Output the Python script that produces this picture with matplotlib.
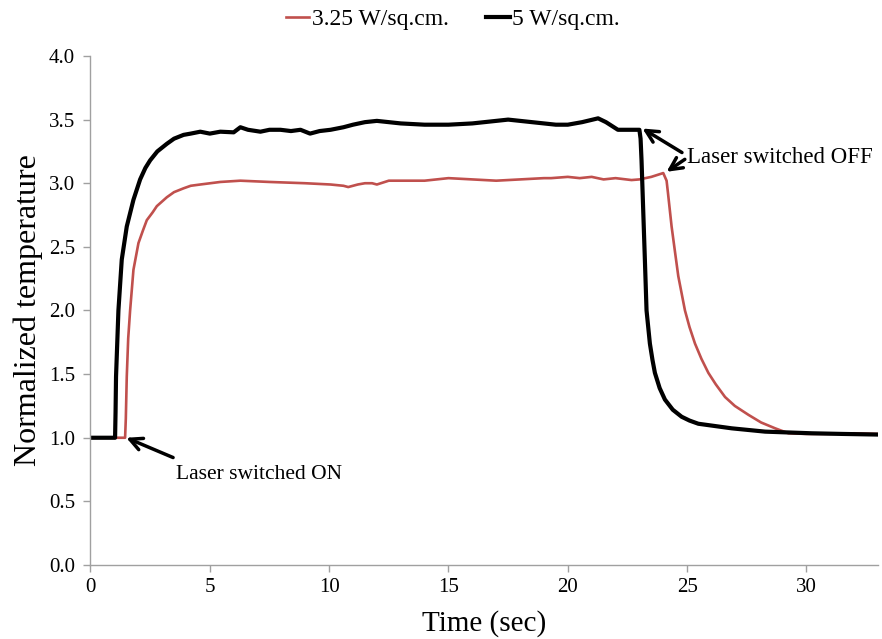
import matplotlib.pyplot as plt

plt.rcParams['font.family'] = ['Liberation Serif', 'DejaVu Serif']

# 3.25 W/sq.cm. (red)
t_red = [0, 1.0, 1.45, 1.48, 1.52, 1.58, 1.66, 1.80, 2.01, 2.2, 2.36, 2.6, 2.78, 3.20,
         3.5, 3.90, 4.2, 4.60, 5.44, 6.28, 7.5, 9.0, 10.06, 10.6, 10.8, 11.2, 11.5,
         11.8, 12.0, 12.5, 13.0, 14.0, 15.0, 16.0, 17.0, 18.0, 19.0, 19.3, 20.0, 20.5,
         21.0, 21.5, 22.0, 22.67, 23.0, 23.5, 24.0, 24.14, 24.2, 24.35, 24.5, 24.63,
         24.91, 25.1, 25.33, 25.6, 25.89, 26.2, 26.59, 27.0, 27.57, 28.1, 28.69, 29.25,
         30.0, 31.0, 32.0, 33.0]
y_red = [1.0, 1.0, 1.0, 1.15, 1.48, 1.78, 2.0, 2.32, 2.53, 2.63, 2.71, 2.77, 2.82, 2.89,
         2.93, 2.96, 2.98, 2.99, 3.01, 3.02, 3.01, 3.0, 2.99, 2.98, 2.97, 2.99, 3.0,
         3.0, 2.99, 3.02, 3.02, 3.02, 3.04, 3.03, 3.02, 3.03, 3.04, 3.04, 3.05, 3.04,
         3.05, 3.03, 3.04, 3.025, 3.03, 3.05, 3.08, 3.02, 2.92, 2.66, 2.45, 2.27,
         2.00, 1.87, 1.74, 1.62, 1.51, 1.42, 1.32, 1.25, 1.18, 1.12, 1.074, 1.035,
         1.03, 1.03, 1.035, 1.03]

# 5 W/sq.cm. (black)
t_blk = [0, 0.5, 1.03, 1.05, 1.07, 1.17, 1.31, 1.52, 1.80, 2.08, 2.3, 2.50, 2.8, 3.20,
         3.5, 3.90, 4.2, 4.60, 5.0, 5.44, 6.0, 6.28, 6.6, 7.12, 7.5, 7.96, 8.4, 8.8,
         9.2, 9.6, 10.06, 10.6, 11.0, 11.5, 12.0, 12.5, 13.0, 14.0, 15.0, 16.0, 17.0,
         17.5, 18.5, 19.5, 20.0, 20.6, 21.27, 21.6, 22.1, 22.5, 23.0, 23.05, 23.09,
         23.23, 23.30, 23.44, 23.55, 23.65, 23.85, 24.07, 24.4, 24.77, 25.1, 25.47,
         26.87, 28.27, 30.23, 31.5, 33.0]
y_blk = [1.0, 1.0, 1.0, 1.2, 1.48, 2.00, 2.40, 2.66, 2.87, 3.03, 3.12, 3.18, 3.25, 3.31,
         3.35, 3.38, 3.39, 3.405, 3.39, 3.405, 3.40, 3.44, 3.42, 3.405, 3.42, 3.42, 3.41, 3.42,
         3.39, 3.41, 3.42, 3.44, 3.46, 3.48, 3.49, 3.48, 3.47, 3.46, 3.46, 3.47, 3.49,
         3.50, 3.48, 3.46, 3.46, 3.48, 3.51, 3.48, 3.42, 3.42, 3.42, 3.35, 3.18,
         2.40, 2.00, 1.74, 1.61, 1.51, 1.39, 1.30, 1.22, 1.165, 1.135, 1.11,
         1.074, 1.048, 1.035, 1.03, 1.025]

fig = plt.figure(figsize=(8.82, 6.39), dpi=100)
ax = fig.add_axes([0.1026, 0.1158, 0.8929, 0.7966])

ax.plot(t_red, y_red, color='#C0504D', lw=1.9, label='3.25 W/sq.cm.')
ax.plot(t_blk, y_blk, color='black', lw=3.0, label='5 W/sq.cm.')

ax.set_xlim(0, 33)
ax.set_ylim(0, 4.0)
ax.set_xticks(range(0, 35, 5))
ax.set_yticks([i * 0.5 for i in range(9)])
ax.set_yticklabels(['%.1f' % (i * 0.5) for i in range(9)])

for s in ['top', 'right']:
    ax.spines[s].set_visible(False)
for s in ['left', 'bottom']:
    ax.spines[s].set_color('#A0A0A0')
    ax.spines[s].set_linewidth(1.0)
ax.tick_params(colors='#A0A0A0', labelcolor='black', labelsize=15, length=5, width=1.0)
ax.tick_params(axis='y', pad=6)
ax.tick_params(axis='x', pad=4)

ax.set_xlabel('Time (sec)', fontsize=21, labelpad=10)
ax.set_ylabel('Normalized temperature', fontsize=23, labelpad=4)

ax.legend(loc='lower center', bbox_to_anchor=(0.46, 1.009), ncol=2, frameon=False,
          fontsize=17, handlelength=1.0, handletextpad=0.1, columnspacing=1.6)

arrow = dict(arrowstyle='->', color='black', lw=2.5, mutation_scale=22)
ax.annotate('Laser switched ON', xy=(1.5, 1.0), xytext=(3.6, 0.71), fontsize=15.5,
            va='center', ha='left', arrowprops=dict(arrow, shrinkA=0, shrinkB=0,
            relpos=(-0.02, 1.4)))
ax.annotate('Laser switched OFF', xy=(23.13, 3.43), xytext=(25.0, 3.2), fontsize=16.5,
            va='center', ha='left', arrowprops=dict(arrow, shrinkA=2, shrinkB=0,
            relpos=(0, 0.6)))
ax.annotate('', xy=(24.14, 3.09), xytext=(25.0, 3.2),
            arrowprops=dict(arrow, shrinkA=2, shrinkB=0))

fig.savefig('out.png', dpi=100)
